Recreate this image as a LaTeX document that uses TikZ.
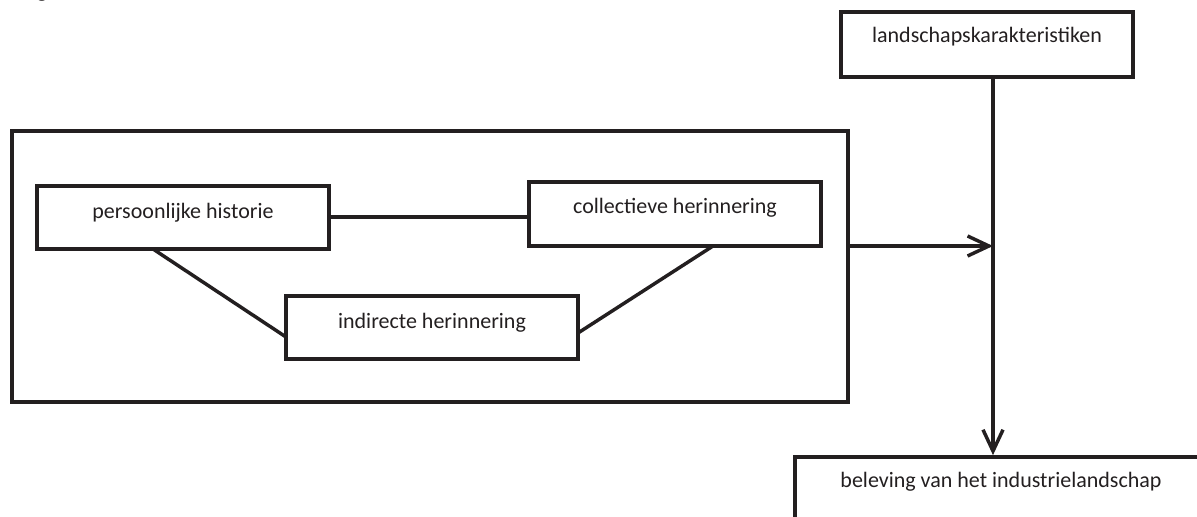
\documentclass[tikz,border=0pt]{standalone}
\usepackage{fontspec}
\setmainfont{Carlito}
\usetikzlibrary{arrows.meta}
\definecolor{ink}{HTML}{231F20}
\tikzset{
  lbl/.style={font=\fontsize{16.5}{19}\selectfont, text=ink},
  box/.style={draw=ink, line width=2.8pt, rectangle, inner sep=0pt, minimum width=#1*0.75pt, lbl, text height=11pt, text depth=3.5pt},
  link/.style={draw=ink, line width=2.6pt},
  arr/.style={draw=ink, line width=2.6pt, -{Straight Barb[length=16pt,width=15pt,line width=2.6pt]}}
}
\begin{document}
\begin{tikzpicture}[x=0.75pt,y=-0.75pt]
\useasboundingbox (0,0) rectangle (1197,517);
\node[anchor=base, lbl] (frag) at (42,-2.8) {g};
\node[box=836, minimum height=271*0.75pt] (grp) at (430,266.5) {};
\node[box=292, minimum height=63*0.75pt] (p) at (183,217.5) {\raisebox{3pt}{persoonlijke historie}};
\node[box=292, minimum height=64*0.75pt] (c) at (675,214) {\raisebox{4pt}{collectieve herinnering}};
\node[box=292, minimum height=63*0.75pt] (i) at (432,327.5) {\raisebox{3pt}{indirecte herinnering}};
\node[box=292, minimum height=65*0.75pt] (L) at (987,44.5) {\raisebox{5pt}{landschapskarakteristiken}};
\node[box=412, minimum height=64*0.75pt] (B) at (1001,489) {\raisebox{5pt}{beleving van het industrielandschap}};
\coordinate (pb) at (153,249);
\coordinate (il) at (286,337);
\coordinate (cb) at (713,246);
\coordinate (ir) at (578,333);
\coordinate (join) at (993,246);
\draw[link] (p.east |- 0,217) -- (c.west |- 0,217);
\draw[link] (pb) -- (il);
\draw[link] (cb) -- (ir);
\draw[arr] (grp.east |- join) -- (join);
\draw[arr] (L.south -| join) -- (B.north -| join);
\end{tikzpicture}
\end{document}
